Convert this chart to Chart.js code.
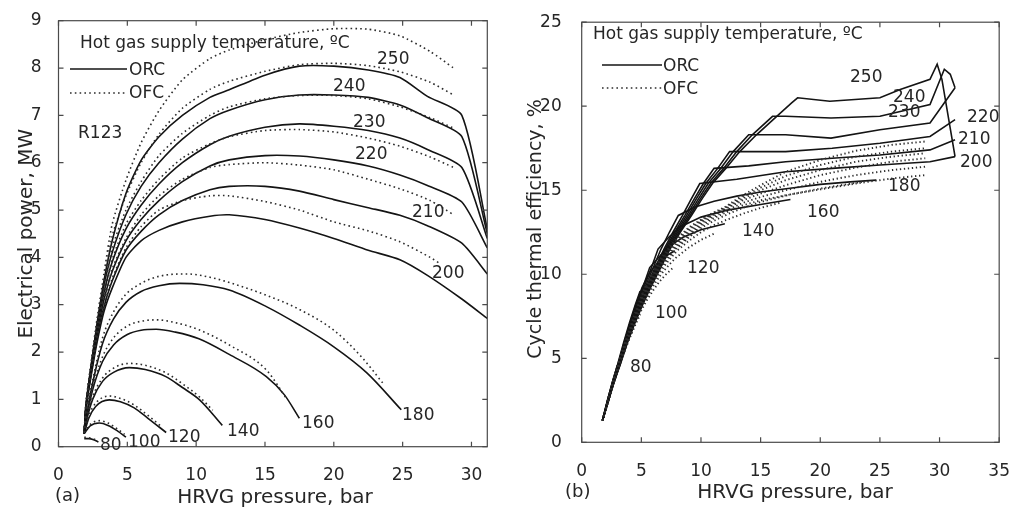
<!DOCTYPE html>
<html><head><meta charset="utf-8">
<script src="https://cdn.jsdelivr.net/npm/chart.js@4.4.1/dist/chart.umd.min.js"></script>
<style>
html,body{margin:0;padding:0;background:#fff;overflow:hidden}
#wrap{position:relative;width:1021px;height:508px;background:#fff}
canvas{position:absolute;top:0}
#ca{left:0}
#cb{left:510px}
</style></head><body>
<div id="wrap"><canvas id="ca" width="510" height="508"></canvas><canvas id="cb" width="511" height="508"></canvas></div>
<script>
// ---------- Panel (a): electrical power, MW vs HRVG pressure, bar ----------
const pressureGridA = [1.87,2.0,2.4,2.8,3.3,3.9,4.9,6.0,7.3,9.0,11.0,12.4,15.0,17.5,20.0,22.5,24.8,26.8,29.3,31.15];
const powerORC250 = [0.28,0.9,1.78,2.6,3.5,4.35,5.35,6.05,6.55,7.0,7.38,7.54,7.85,8.04,8.04,7.96,7.8,7.4,7.0,4.6];
const powerORC240 = [0.28,0.88,1.76,2.56,3.4,4.1,4.9,5.5,6.0,6.5,6.93,7.11,7.33,7.43,7.43,7.38,7.22,6.95,6.55,4.5];
const powerORC230 = [0.28,0.86,1.72,2.5,3.25,3.9,4.6,5.1,5.55,6.0,6.38,6.56,6.75,6.82,6.77,6.68,6.52,6.28,5.9,4.4];
const powerORC220 = [0.28,0.85,1.66,2.4,3.1,3.7,4.35,4.8,5.2,5.6,5.93,6.06,6.15,6.14,6.06,5.93,5.74,5.52,5.17,4.2];
const powerORC210 = [0.28,0.84,1.6,2.3,2.95,3.5,4.15,4.55,4.9,5.2,5.43,5.5,5.5,5.4,5.22,5.05,4.89,4.67,4.3,3.65];
const powerORC200 = [0.28,0.83,1.55,2.2,2.85,3.35,4.0,4.35,4.57,4.75,4.87,4.9,4.8,4.62,4.4,4.15,3.95,3.62,3.12,2.71];

const pressureGridOFC = [1.87,2.0,2.4,2.8,3.3,3.9,4.9,6.0,7.3,9.0,11.0,12.4,15.0,17.5,20.0,22.5,24.8,27.0,28.7];
const powerOFC250 = [0.3,0.95,1.85,2.7,3.65,4.7,5.63,6.42,7.1,7.75,8.2,8.38,8.6,8.75,8.83,8.82,8.68,8.35,8.0];
const powerOFC240 = [0.3,0.93,1.8,2.62,3.5,4.45,5.3,6.0,6.6,7.15,7.55,7.72,7.93,8.07,8.1,8.05,7.92,7.7,7.43];
const powerOFC230 = [0.3,0.9,1.74,2.52,3.35,4.2,5.0,5.6,6.15,6.62,7.0,7.18,7.35,7.42,7.42,7.35,7.18,6.95,6.73];
const powerOFC220 = [0.3,0.88,1.68,2.44,3.2,3.95,4.7,5.2,5.65,6.1,6.4,6.55,6.68,6.7,6.65,6.52,6.35,6.12,5.9];
const powerOFC210 = [0.3,0.86,1.62,2.36,3.05,3.75,4.4,4.9,5.3,5.65,5.9,5.96,6.0,5.95,5.85,5.65,5.45,5.2,4.9];
const pressureGridOFC200 = [1.87,2.0,2.4,2.8,3.3,3.9,4.9,6.0,7.3,9.0,11.0,12.4,15.0,17.5,20.0,22.5,24.8,27.0,27.7];
const powerOFC200 = [0.3,0.85,1.58,2.3,2.95,3.55,4.2,4.65,5.0,5.2,5.3,5.3,5.18,5.0,4.75,4.56,4.33,4.0,3.87];

const powerORC180 = [[1.87,0.28],[2.0,0.6],[2.48,1.34],[3.2,2.18],[4.0,2.7],[4.9,3.05],[6.0,3.28],[7.3,3.4],[8.8,3.45],[10.5,3.42],[12.4,3.31],[15.1,2.96],[17.5,2.57],[20.0,2.11],[22.4,1.56],[24.9,0.78]];
const powerOFC180 = [[1.87,0.3],[2.0,0.65],[2.48,1.4],[3.2,2.3],[4.0,2.85],[4.9,3.22],[6.0,3.45],[7.3,3.6],[9.3,3.65],[11.0,3.58],[12.4,3.47],[15.1,3.2],[17.5,2.9],[20.0,2.46],[22.0,1.9],[23.6,1.33]];
const powerORC160 = [[1.87,0.28],[2.0,0.55],[2.48,1.2],[3.2,1.8],[4.0,2.15],[5.0,2.37],[6.0,2.46],[7.1,2.48],[8.5,2.42],[10.2,2.28],[12.4,1.95],[15.1,1.48],[16.4,1.1],[17.5,0.6]];
const powerOFC160 = [[1.87,0.3],[2.0,0.6],[2.48,1.25],[3.2,1.9],[4.0,2.3],[5.0,2.55],[6.0,2.65],[7.1,2.68],[8.5,2.62],[10.2,2.47],[12.4,2.15],[15.1,1.62],[16.6,1.0]];
const powerORC140 = [[1.87,0.28],[2.0,0.5],[2.48,1.0],[3.2,1.38],[4.0,1.57],[5.15,1.67],[6.3,1.63],[7.8,1.48],[9.0,1.25],[10.25,0.99],[11.9,0.45]];
const powerOFC140 = [[1.87,0.3],[2.0,0.52],[2.48,1.05],[3.2,1.45],[4.0,1.66],[5.15,1.76],[6.3,1.72],[7.8,1.56],[9.0,1.33],[10.25,1.05],[11.2,0.77]];
const powerORC120 = [[1.87,0.28],[2.2,0.6],[2.7,0.85],[3.69,0.99],[4.5,0.95],[5.5,0.82],[6.5,0.6],[7.82,0.3]];
const powerOFC120 = [[1.87,0.3],[2.2,0.65],[2.7,0.92],[3.69,1.07],[4.5,1.02],[5.5,0.88],[6.5,0.66],[7.5,0.42]];
const powerORC100 = [[1.87,0.28],[2.3,0.44],[2.96,0.5],[3.6,0.45],[4.3,0.33],[4.9,0.2]];
const powerOFC100 = [[1.87,0.3],[2.3,0.47],[2.96,0.55],[3.6,0.5],[4.3,0.37],[4.8,0.26]];
const powerORC80 = [[1.87,0.17],[2.2,0.17],[2.6,0.14],[2.9,0.1]];
const powerOFC80 = [[1.87,0.2],[2.2,0.19],[2.6,0.16],[2.8,0.13]];

// ---------- Panel (b): cycle thermal efficiency, % vs HRVG pressure, bar ----------
const effORC80 = [[1.75,1.3],[2.2,2.6],[2.6,3.65],[3.0,4.6]];
const effORC100 = [[1.75,1.3],[2.2,2.6],[2.6,3.65],[3.0,4.6],[3.5,5.9],[4.0,7.1],[4.5,8.2],[4.9,9.0]];
const effORC120 = [[1.75,1.3],[2.21,2.6],[2.62,3.65],[3.03,4.6],[3.54,5.9],[4.05,7.1],[4.55,8.2],[5.05,9.2],[5.7,10.1],[6.4,10.7],[7.1,11.1],[7.8,11.4]];
const effORC140 = [[1.75,1.3],[2.23,2.6],[2.64,3.65],[3.06,4.6],[3.59,5.9],[4.12,7.1],[4.64,8.2],[5.12,9.2],[5.7,10.4],[6.45,11.0],[7.2,11.6],[8.5,12.2],[10.0,12.65],[12.0,13.0]];
const effORC160 = [[1.75,1.3],[2.24,2.6],[2.66,3.65],[3.08,4.6],[3.62,5.9],[4.15,7.1],[4.68,8.2],[5.2,9.2],[5.85,10.4],[6.4,11.5],[7.3,12.2],[8.2,12.8],[10.0,13.4],[12.1,13.8],[15.0,14.15],[17.5,14.45]];
const effORC180 = [[1.75,1.3],[2.25,2.6],[2.68,3.65],[3.1,4.6],[3.65,5.9],[4.2,7.1],[4.75,8.2],[5.3,9.2],[6.0,10.4],[6.65,11.5],[7.35,12.5],[8.1,13.5],[9.5,14.0],[11.1,14.35],[13.0,14.65],[15.0,14.9],[17.3,15.1],[20.0,15.35],[22.5,15.5],[24.7,15.6]];
const effORC200 = [[1.75,1.3],[2.25,2.6],[2.7,3.65],[3.12,4.6],[3.68,5.9],[4.25,7.1],[4.82,8.2],[5.4,9.2],[6.15,10.4],[6.9,11.5],[7.65,12.5],[8.45,13.5],[9.2,14.5],[9.9,15.4],[13.0,15.65],[17.1,16.1],[21.0,16.3],[25.0,16.5],[29.2,16.7],[31.3,17.0]];
const effORC210 = [[1.75,1.3],[2.26,2.6],[2.71,3.65],[3.14,4.6],[3.7,5.9],[4.3,7.1],[4.88,8.2],[5.48,9.2],[6.25,10.4],[7.0,11.5],[7.8,12.5],[8.65,13.5],[9.45,14.5],[10.2,15.4],[11.1,16.3],[14.0,16.45],[17.1,16.7],[21.0,16.9],[25.0,17.1],[29.2,17.4],[31.3,18.0]];
const effORC220 = [[1.75,1.3],[2.27,2.6],[2.72,3.65],[3.16,4.6],[3.73,5.9],[4.34,7.1],[4.94,8.2],[5.55,9.2],[6.35,10.4],[7.1,11.5],[7.92,12.5],[8.8,13.5],[9.62,14.5],[10.4,15.4],[11.4,16.3],[12.4,17.3],[17.1,17.3],[21.0,17.5],[25.0,17.8],[29.2,18.2],[31.3,19.2]];
const effORC230 = [[1.75,1.3],[2.28,2.6],[2.73,3.65],[3.18,4.6],[3.76,5.9],[4.38,7.1],[5.0,8.2],[5.62,9.2],[6.44,10.4],[7.2,11.5],[8.04,12.5],[8.94,13.5],[9.8,14.5],[10.6,15.4],[11.65,16.3],[12.7,17.3],[14.0,18.3],[17.1,18.3],[20.9,18.1],[25.0,18.6],[29.2,19.0],[31.3,21.1]];
const effORC240 = [[1.75,1.3],[2.29,2.6],[2.74,3.65],[3.2,4.6],[3.79,5.9],[4.42,7.1],[5.06,8.2],[5.7,9.2],[6.53,10.4],[7.3,11.5],[8.16,12.5],[9.08,13.5],[9.96,14.5],[10.8,15.4],[11.9,16.3],[13.0,17.3],[14.3,18.3],[16.0,19.4],[17.1,19.4],[20.9,19.3],[25.0,19.4],[29.2,20.1],[30.4,22.2],[30.9,21.9],[31.3,21.1]];
const effORC250 = [[1.75,1.3],[2.3,2.6],[2.75,3.65],[3.22,4.6],[3.82,5.9],[4.46,7.1],[5.12,8.2],[5.77,9.2],[6.62,10.4],[7.4,11.5],[8.26,12.5],[9.2,13.5],[10.1,14.5],[10.96,15.4],[12.08,16.3],[13.25,17.3],[14.65,18.3],[16.35,19.4],[17.6,20.2],[18.1,20.5],[20.8,20.3],[25.0,20.5],[26.7,21.0],[29.2,21.6],[29.8,22.5],[30.2,21.6],[31.3,17.0]];

const effOFC80 = [[1.75,1.3],[2.2,2.4],[2.6,3.35],[2.9,4.0]];
const effOFC100 = [[1.75,1.3],[2.2,2.4],[2.6,3.35],[3.0,4.25],[3.5,5.25],[4.0,6.15],[4.5,7.0],[4.9,7.6]];
const effOFC120 = [[1.75,1.3],[2.2,2.4],[2.6,3.35],[3.0,4.25],[3.5,5.3],[4.0,6.25],[4.5,7.1],[5.0,7.85],[5.5,8.5],[6.0,9.05],[6.5,9.55],[7.0,9.95],[7.6,10.35]];
const effOFC140 = [[1.75,1.3],[2.2,2.4],[2.6,3.38],[3.0,4.3],[3.5,5.35],[4.0,6.3],[4.5,7.2],[5.0,8.0],[5.5,8.7],[6.0,9.3],[6.5,9.85],[7.0,10.3],[7.5,10.7],[8.0,11.05],[9.0,11.6],[10.0,12.05],[11.2,12.45]];
const effOFC160 = [[1.75,1.3],[2.2,2.42],[2.6,3.4],[3.0,4.32],[3.5,5.38],[4.0,6.35],[4.5,7.25],[5.0,8.1],[5.5,8.85],[6.0,9.5],[6.5,10.05],[7.0,10.55],[7.5,11.0],[8.0,11.4],[9.0,12.0],[10.0,12.5],[11.0,12.9],[12.0,13.2],[13.5,13.6],[15.0,13.95],[16.6,14.25]];
const effOFC180 = [[1.75,1.3],[2.2,2.44],[2.6,3.42],[3.0,4.35],[3.5,5.42],[4.0,6.4],[4.5,7.3],[5.0,8.2],[5.5,8.95],[6.0,9.6],[6.5,10.2],[7.0,10.7],[7.5,11.15],[8.0,11.55],[9.0,12.2],[10.0,12.75],[11.0,13.15],[12.0,13.5],[13.5,13.95],[15.0,14.3],[17.5,14.75],[20.0,15.1],[23.5,15.5]];
const effOFC200 = [[1.75,1.3],[2.2,2.46],[2.6,3.44],[3.0,4.38],[3.5,5.46],[4.0,6.45],[4.5,7.38],[5.0,8.3],[5.5,9.05],[6.0,9.7],[6.5,10.3],[7.0,10.8],[7.5,11.25],[8.0,11.65],[9.0,12.3],[10.0,12.85],[11.0,13.3],[12.0,13.65],[13.5,14.1],[15.0,14.4],[17.1,14.7],[20.0,15.05],[23.0,15.4],[26.0,15.7],[28.8,15.9]];
const effOFC210 = [[1.75,1.3],[2.2,2.48],[2.6,3.46],[3.0,4.4],[3.5,5.5],[4.0,6.5],[4.5,7.45],[5.0,8.38],[5.5,9.15],[6.0,9.8],[6.5,10.4],[7.0,10.9],[7.5,11.35],[8.0,11.75],[9.0,12.4],[10.0,12.95],[11.0,13.4],[12.0,13.75],[13.5,14.25],[15.0,14.6],[17.1,15.0],[20.0,15.5],[23.0,15.9],[26.0,16.2],[28.8,16.4]];
const effOFC220 = [[1.75,1.3],[2.2,2.5],[2.6,3.48],[3.0,4.43],[3.5,5.54],[4.0,6.55],[4.5,7.52],[5.0,8.45],[5.5,9.25],[6.0,9.9],[6.5,10.5],[7.0,11.0],[7.5,11.45],[8.0,11.85],[9.0,12.5],[10.0,13.05],[11.0,13.5],[12.0,13.85],[13.5,14.4],[15.0,14.8],[17.1,15.3],[20.0,15.9],[23.0,16.35],[26.0,16.7],[28.8,16.9]];
const effOFC230 = [[1.75,1.3],[2.2,2.52],[2.6,3.5],[3.0,4.46],[3.5,5.58],[4.0,6.6],[4.5,7.6],[5.0,8.52],[5.5,9.35],[6.0,10.0],[6.5,10.6],[7.0,11.1],[7.5,11.55],[8.0,11.95],[9.0,12.6],[10.0,13.15],[11.0,13.55],[12.0,13.9],[13.5,14.5],[15.0,15.0],[17.1,15.6],[20.0,16.2],[23.0,16.7],[26.0,17.0],[28.8,17.2]];
const effOFC240 = [[1.75,1.3],[2.2,2.54],[2.6,3.52],[3.0,4.5],[3.5,5.62],[4.0,6.65],[4.5,7.68],[5.0,8.6],[5.5,9.45],[6.0,10.1],[6.5,10.7],[7.0,11.2],[7.5,11.65],[8.0,12.05],[9.0,12.7],[10.0,13.2],[11.0,13.6],[12.0,13.95],[13.5,14.6],[15.0,15.15],[17.1,15.85],[20.0,16.5],[23.0,17.0],[26.0,17.3],[28.8,17.5]];
const effOFC250 = [[1.75,1.3],[2.2,2.56],[2.6,3.55],[3.0,4.53],[3.5,5.66],[4.0,6.7],[4.5,7.75],[5.0,8.7],[5.5,9.55],[6.0,10.2],[6.5,10.8],[7.0,11.3],[7.5,11.75],[8.0,12.15],[9.0,12.8],[10.0,13.25],[11.0,13.65],[12.0,14.0],[13.5,14.7],[15.0,15.3],[17.1,16.1],[20.0,16.8],[23.0,17.35],[26.0,17.7],[28.8,17.9]];

// ---------- helpers ----------
const FONT = "'DejaVu Sans', 'Liberation Sans', sans-serif";
const TXT = '#262626';
const zip = (xs, ys) => ys.map((v, i) => ({x: xs[i], y: v}));
const pairs = (arr) => arr.map(p => ({x: p[0], y: p[1]}));

// mode: 'mono' = monotone smoothing, 'spline' = light cubic, 'line' = straight segments
function ds(points, dotted, mode, hatch) {
  return {
    data: points, showLine: true, pointRadius: 0, pointHoverRadius: 0,
    borderColor: dotted ? '#2c2c2c' : '#141414',
    borderWidth: dotted ? (hatch ? 1.9 : 1.6) : 1.6,
    borderDash: dotted ? (hatch ? [1.3, 2.7] : [1.6, 3.2]) : [],
    borderCapStyle: 'butt',
    cubicInterpolationMode: mode === 'mono' ? 'monotone' : 'default',
    tension: mode === 'spline' ? 0.22 : 0,
    fill: false
  };
}

const frameAndText = {
  id: 'frameAndText',
  afterDatasetsDraw(chart) {
    const {ctx, chartArea: a, scales: {x, y}} = chart;
    ctx.save();
    ctx.strokeStyle = '#4a4a4a';
    ctx.lineWidth = 1.2;
    ctx.strokeRect(a.left, a.top, a.right - a.left, a.bottom - a.top);
    ctx.beginPath();
    x.ticks.forEach(t => {
      const px = x.getPixelForValue(t.value);
      ctx.moveTo(px, a.bottom); ctx.lineTo(px, a.bottom - 5);
      ctx.moveTo(px, a.top); ctx.lineTo(px, a.top + 5);
    });
    y.ticks.forEach(t => {
      const py = y.getPixelForValue(t.value);
      ctx.moveTo(a.left, py); ctx.lineTo(a.left + 5, py);
      ctx.moveTo(a.right, py); ctx.lineTo(a.right - 5, py);
    });
    ctx.stroke();
    ctx.restore();
  },
  afterDraw(chart, args, opts) {
    const ctx = chart.ctx;
    const ox = opts.offsetX || 0;
    ctx.save();
    ctx.fillStyle = TXT;
    ctx.textBaseline = 'alphabetic';
    (opts.texts || []).forEach(t => {
      ctx.save();
      ctx.font = (t.size || 17) + 'px ' + FONT;
      ctx.textAlign = t.align || 'left';
      ctx.translate(t.x - ox, t.y);
      if (t.rot) ctx.rotate(t.rot);
      ctx.fillText(t.text, 0, 0);
      ctx.restore();
    });
    (opts.legend || []).forEach(l => {
      ctx.save();
      ctx.strokeStyle = l.dotted ? '#2c2c2c' : '#141414';
      ctx.lineWidth = 1.6;
      ctx.setLineDash(l.dotted ? [1.6, 3.2] : []);
      ctx.beginPath();
      ctx.moveTo(l.x0 - ox, l.y); ctx.lineTo(l.x1 - ox, l.y);
      ctx.stroke();
      ctx.restore();
    });
    ctx.restore();
  }
};

function makeChart(canvasId, datasets, cfg) {
  return new Chart(document.getElementById(canvasId), {
    type: 'scatter',
    data: {datasets},
    plugins: [frameAndText],
    options: {
      responsive: false, animation: false, devicePixelRatio: 1, events: [],
      layout: {padding: cfg.padding},
      plugins: {legend: {display: false}, tooltip: {enabled: false},
        frameAndText: {texts: cfg.texts, legend: cfg.legend, offsetX: cfg.offsetX}},
      scales: {
        x: {type: 'linear', min: cfg.xmin, max: cfg.xmax,
          grid: {display: false}, border: {display: false},
          ticks: {stepSize: cfg.xstep, includeBounds: false, autoSkip: false, maxRotation: 0,
            padding: cfg.xTickPad, color: TXT, font: {family: FONT, size: 17}},
          afterFit: s => { s.height = cfg.xAxisH; }},
        y: {type: 'linear', min: cfg.ymin, max: cfg.ymax,
          grid: {display: false}, border: {display: false},
          ticks: {stepSize: cfg.ystep, includeBounds: false, autoSkip: false,
            padding: cfg.yTickPad, color: TXT, font: {family: FONT, size: 17}},
          afterFit: s => { s.width = cfg.yAxisW; }}
      }
    }
  });
}

// ---------- chart (a) ----------
const dsA = [
  ds(zip(pressureGridOFC, powerOFC250), true, 'spline'),
  ds(zip(pressureGridOFC, powerOFC240), true, 'spline'),
  ds(zip(pressureGridOFC, powerOFC230), true, 'spline'),
  ds(zip(pressureGridOFC, powerOFC220), true, 'spline'),
  ds(zip(pressureGridOFC, powerOFC210), true, 'spline'),
  ds(zip(pressureGridOFC200, powerOFC200), true, 'spline'),
  ds(pairs(powerOFC180), true, 'mono'),
  ds(pairs(powerOFC160), true, 'mono'),
  ds(pairs(powerOFC140), true, 'mono'),
  ds(pairs(powerOFC120), true, 'mono'),
  ds(pairs(powerOFC100), true, 'mono'),
  ds(pairs(powerOFC80), true, 'mono'),
  ds(zip(pressureGridA, powerORC250), false, 'spline'),
  ds(zip(pressureGridA, powerORC240), false, 'spline'),
  ds(zip(pressureGridA, powerORC230), false, 'spline'),
  ds(zip(pressureGridA, powerORC220), false, 'spline'),
  ds(zip(pressureGridA, powerORC210), false, 'spline'),
  ds(zip(pressureGridA, powerORC200), false, 'spline'),
  ds(pairs(powerORC180), false, 'mono'),
  ds(pairs(powerORC160), false, 'mono'),
  ds(pairs(powerORC140), false, 'mono'),
  ds(pairs(powerORC120), false, 'mono'),
  ds(pairs(powerORC100), false, 'mono'),
  ds(pairs(powerORC80), false, 'mono')
];
const ROT = -Math.PI / 2;
makeChart('ca', dsA, {
  padding: {left: 0, top: 20.7, right: 22.7, bottom: 0},
  xmin: 0, xmax: 31.15, xstep: 5, ymin: 0, ymax: 9, ystep: 1,
  xAxisH: 61.3, yAxisW: 58.5, xTickPad: 11, yTickPad: 9, offsetX: 0,
  legend: [{x0: 70, x1: 127, y: 69, dotted: false}, {x0: 70, x1: 127, y: 93, dotted: true}],
  texts: [
    {text: 'Hot gas supply temperature, ºC', x: 80, y: 48, size: 17},
    {text: 'ORC', x: 129, y: 75, size: 17},
    {text: 'OFC', x: 129, y: 98, size: 17},
    {text: 'R123', x: 78, y: 138, size: 17},
    {text: '250', x: 377, y: 64}, {text: '240', x: 333, y: 91},
    {text: '230', x: 353, y: 127}, {text: '220', x: 355, y: 159},
    {text: '210', x: 412, y: 217}, {text: '200', x: 432, y: 278},
    {text: '180', x: 402, y: 420}, {text: '160', x: 302, y: 428},
    {text: '140', x: 227, y: 436}, {text: '120', x: 168, y: 442},
    {text: '100', x: 128, y: 447}, {text: '80', x: 100, y: 450},
    {text: 'HRVG pressure, bar', x: 275, y: 503, size: 20, align: 'center'},
    {text: '(a)', x: 55, y: 501, size: 18},
    {text: 'Electrical power, MW', x: 32, y: 233.7, size: 20, align: 'center', rot: ROT}
  ]
});

// ---------- chart (b) ----------
const dsB = [
  ds(pairs(effOFC250), true, 'line', true), ds(pairs(effOFC240), true, 'line', true),
  ds(pairs(effOFC230), true, 'line', true), ds(pairs(effOFC220), true, 'line', true),
  ds(pairs(effOFC210), true, 'line', true), ds(pairs(effOFC200), true, 'line', true),
  ds(pairs(effOFC180), true, 'line', true), ds(pairs(effOFC160), true, 'line', true),
  ds(pairs(effOFC140), true, 'line', true), ds(pairs(effOFC120), true, 'line', true),
  ds(pairs(effOFC100), true, 'line', true), ds(pairs(effOFC80), true, 'line', true),
  ds(pairs(effORC250), false, 'line'), ds(pairs(effORC240), false, 'line'),
  ds(pairs(effORC230), false, 'line'), ds(pairs(effORC220), false, 'line'),
  ds(pairs(effORC210), false, 'line'), ds(pairs(effORC200), false, 'line'),
  ds(pairs(effORC180), false, 'line'), ds(pairs(effORC160), false, 'line'),
  ds(pairs(effORC140), false, 'line'), ds(pairs(effORC120), false, 'line'),
  ds(pairs(effORC100), false, 'line'), ds(pairs(effORC80), false, 'line')
];
makeChart('cb', dsB, {
  padding: {left: 0, top: 16, right: 11.6, bottom: 0},
  xmin: 0, xmax: 35, xstep: 5, ymin: 0, ymax: 25, ystep: 5,
  xAxisH: 65.7, yAxisW: 71.7, xTickPad: 11, yTickPad: 12, offsetX: 510,
  legend: [{x0: 602, x1: 662, y: 65, dotted: false}, {x0: 602, x1: 662, y: 88, dotted: true}],
  texts: [
    {text: 'Hot gas supply temperature, ºC', x: 593, y: 39, size: 17},
    {text: 'ORC', x: 663, y: 71, size: 17},
    {text: 'OFC', x: 663, y: 94, size: 17},
    {text: '250', x: 850, y: 82}, {text: '240', x: 893, y: 102},
    {text: '230', x: 888, y: 117}, {text: '220', x: 967, y: 122},
    {text: '210', x: 958, y: 144}, {text: '200', x: 960, y: 167},
    {text: '180', x: 888, y: 191}, {text: '160', x: 807, y: 217},
    {text: '140', x: 742, y: 236}, {text: '120', x: 687, y: 273},
    {text: '100', x: 655, y: 318}, {text: '80', x: 630, y: 372},
    {text: 'HRVG pressure, bar', x: 795, y: 498, size: 20, align: 'center'},
    {text: '(b)', x: 565, y: 497, size: 18},
    {text: 'Cycle thermal efficiency, %', x: 541, y: 229, size: 19, align: 'center', rot: ROT}
  ]
});
</script>
</body></html>
